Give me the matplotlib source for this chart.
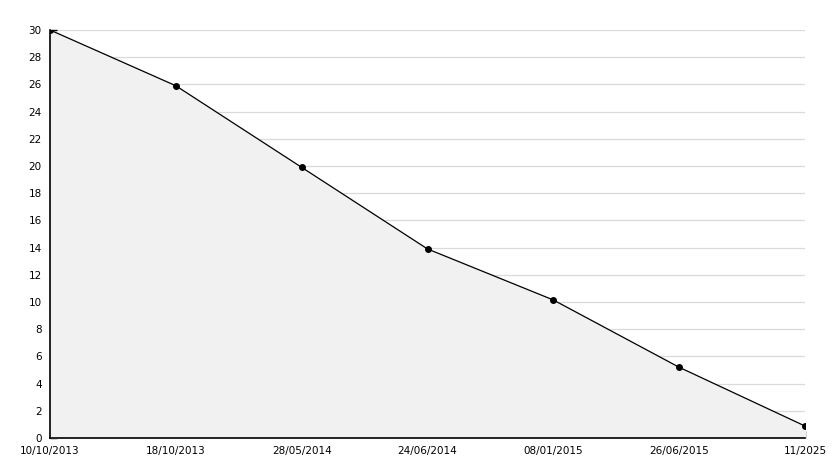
import numpy as np
import matplotlib.pyplot as plt
from matplotlib.ticker import MultipleLocator

# data
dates = ['10/10/2013', '18/10/2013', '28/05/2014', '24/06/2014',
         '08/01/2015', '26/06/2015', '11/2025']
values = [30, 25.9, 19.9, 13.9, 10.15, 5.2, 0.88]

fig = plt.figure(figsize=(8.34, 4.68), dpi=100)
ax = fig.add_axes([50/834, 30/468, 755/834, 408/468])

x = np.arange(len(dates))
ax.fill_between(x, values, 0, color='#f1f1f1', zorder=2)
ax.plot(x, values, color='black', lw=0.9, marker='o', markersize=4, zorder=3)

ax.set_xlim(0, len(dates) - 1)
ax.set_ylim(0, 30)
ax.yaxis.set_major_locator(MultipleLocator(2))
ax.yaxis.set_minor_locator(MultipleLocator(1))
ax.set_xticks(x)
ax.set_xticklabels(dates)

ax.grid(axis='y', color='#dadada', lw=0.9, zorder=1)
ax.set_axisbelow(True)
for s in ['top', 'right']:
    ax.spines[s].set_visible(False)
for s in ['left', 'bottom']:
    ax.spines[s].set_linewidth(1.2)
    ax.spines[s].set_zorder(4)

ax.tick_params(axis='y', which='major', direction='in', length=5, width=1, labelsize=7.5, pad=6)
ax.tick_params(axis='y', which='minor', direction='in', length=3, width=1)
ax.tick_params(axis='x', direction='in', length=5, width=1, labelsize=7.5, pad=6)

plt.savefig('out.png', dpi=100)
